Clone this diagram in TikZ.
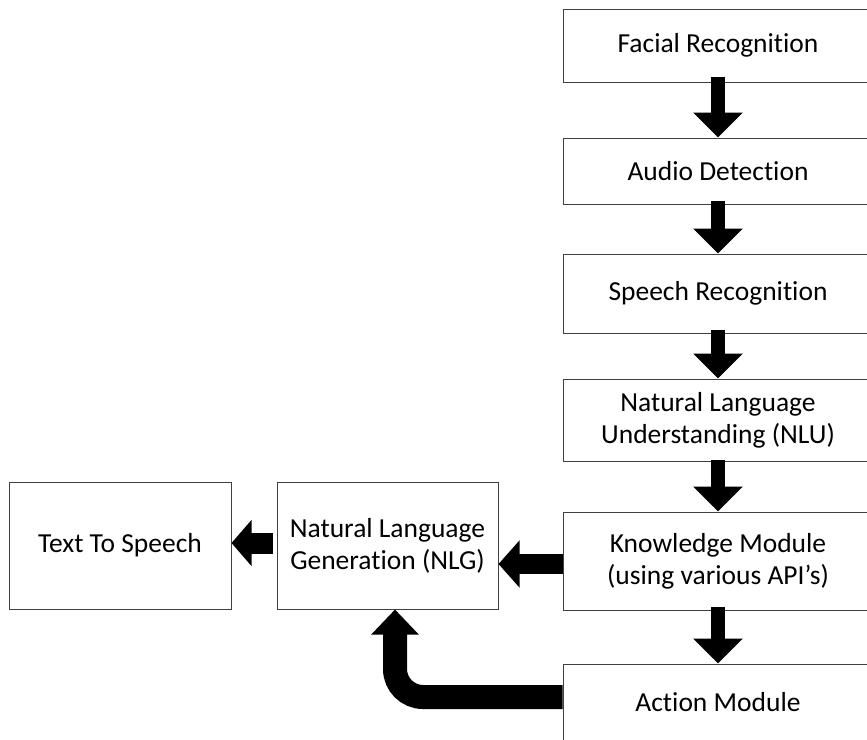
\documentclass[tikz,border=0pt]{standalone}
\usepackage{fontspec}
\setmainfont{Carlito}[Ligatures={NoCommon}]
\usetikzlibrary{arrows.meta}
\tikzset{
  box/.style={draw=black!75, line width=1pt, fill=white, align=center,
    inner sep=0pt, font=\fontsize{27.5}{32}\selectfont},
  downarrow/.style={line width=14pt, -{Triangle[width=48pt,length=25pt]}},
  sidearrow/.style={line width=20pt, -{Triangle[width=46pt,length=21pt]}},
}
\begin{document}
\begin{tikzpicture}[x=1pt,y=-1pt]
\useasboundingbox (0,0) rectangle (867,739);
\begin{scope}
\clip (0,0) rectangle (867,739);
% processing pipeline, right column
\node[box, minimum width=310pt, minimum height=73pt] (face) at (718,45.5) {Facial Recognition};
\node[box, minimum width=310pt, minimum height=66pt] (audio) at (718,171) {Audio Detection};
\node[box, minimum width=310pt, minimum height=79pt] (speech) at (718,293.5) {Speech Recognition};
\node[box, minimum width=310pt, minimum height=82pt] (nlu) at (718,420) {Natural Language\\Understanding (NLU)};
\node[box, minimum width=310pt, minimum height=98pt] (know) at (718,561) {Knowledge Module\\(using various API’s)};
\node[box, minimum width=310pt, minimum height=76pt] (action) at (718,702) {Action Module};
% output stages, left
\node[box, minimum width=221pt, minimum height=127pt] (nlg) at (387.5,545.5) {Natural Language\\Generation (NLG)};
\node[box, minimum width=222pt, minimum height=127pt] (tts) at (120,545.5) {Text To Speech};
\end{scope}
% vertical flow arrows
\draw[downarrow] ([yshift=6pt]face.south) -- (audio.north);
\draw[downarrow] ([yshift=4pt]audio.south) -- (speech.north);
\draw[downarrow] ([yshift=4pt]speech.south) -- (nlu.north);
\draw[downarrow] ([yshift=2pt]nlu.south) -- (know.north);
\draw[downarrow] ([yshift=4pt]know.south) -- (action.north);
% horizontal arrows
\draw[sidearrow] (know.west |- 0,564) -- (nlg.east |- 0,564);
\draw[sidearrow, line width=21pt, -{Triangle[width=45pt,length=20pt]}] ([xshift=-4pt]nlg.west |- 0,543) -- (tts.east |- 0,543);
% feedback from the action module
\draw[line width=24pt, rounded corners=28pt, -{Triangle[width=46pt,length=25pt]}]
  (action.west |- 0,697) -| (395,0 |- nlg.south);
\end{tikzpicture}
\end{document}
